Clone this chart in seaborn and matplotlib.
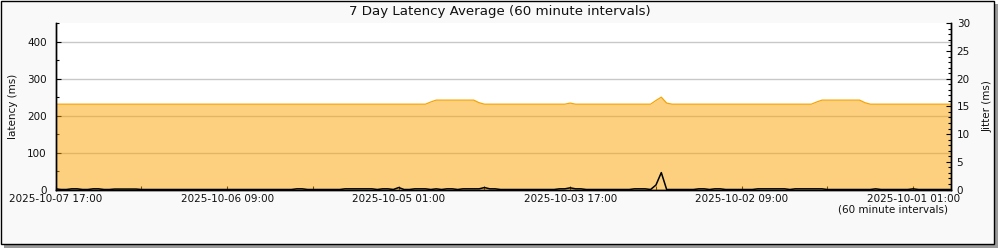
import numpy as np
import pandas as pd
import matplotlib
matplotlib.use("Agg")
import matplotlib.pyplot as plt
import matplotlib.dates as mdates
from matplotlib.patches import Rectangle
from matplotlib.ticker import MultipleLocator
import seaborn as sns

# ---------------- data ----------------
start_time = "2025-10-07 17:00"
n_points = 168  # hourly samples, newest first

latency_ms = [
    231, 231, 231, 231, 231, 231, 231, 231, 231, 231,
    231, 231, 231, 231, 231, 231, 231, 231, 231, 231,
    231, 231, 231, 231, 231, 231, 231, 231, 231, 231,
    231, 231, 231, 231, 231, 231, 231, 231, 231, 231,
    231, 231, 231, 231, 231, 231, 231, 231, 231, 231,
    231, 231, 231, 231, 231, 231, 231, 231, 231, 231,
    231, 231, 231, 231, 231, 231, 231, 231, 231, 231,
    237, 242, 242, 242, 242, 242, 242, 242, 242, 235,
    231, 231, 231, 231, 231, 231, 231, 231, 231, 231,
    231, 231, 231, 231, 231, 231, 234, 231, 231, 231,
    231, 231, 231, 231, 231, 231, 231, 231, 231, 231,
    231, 231, 241, 250, 234, 231, 231, 231, 231, 231,
    231, 231, 231, 231, 231, 231, 231, 231, 231, 231,
    231, 231, 231, 231, 231, 231, 231, 231, 231, 231,
    231, 231, 237, 242, 242, 242, 242, 242, 242, 242,
    242, 235, 231, 231, 231, 231, 231, 231, 231, 231,
    231, 231, 231, 231, 231, 231, 231, 231,
]

jitter_ms = [
    0.12, 0.0, 0.0, 0.12, 0.12, 0.0, 0.0, 0.12, 0.12, 0.0,
    0.0, 0.08, 0.08, 0.08, 0.08, 0.08, 0.0, 0.0, 0.0, 0.0,
    0.0, 0.0, 0.0, 0.0, 0.0, 0.0, 0.0, 0.0, 0.0, 0.0,
    0.0, 0.0, 0.0, 0.0, 0.0, 0.0, 0.0, 0.0, 0.0, 0.0,
    0.0, 0.0, 0.0, 0.0, 0.0, 0.12, 0.12, 0.0, 0.0, 0.0,
    0.0, 0.0, 0.0, 0.0, 0.12, 0.12, 0.12, 0.12, 0.12, 0.12,
    0.0, 0.12, 0.12, 0.0, 0.35, 0.0, 0.0, 0.12, 0.12, 0.12,
    0.0, 0.12, 0.0, 0.12, 0.12, 0.0, 0.12, 0.12, 0.12, 0.12,
    0.35, 0.12, 0.12, 0.0, 0.0, 0.0, 0.0, 0.0, 0.0, 0.0,
    0.0, 0.0, 0.0, 0.0, 0.12, 0.12, 0.3, 0.12, 0.12, 0.0,
    0.0, 0.0, 0.0, 0.0, 0.0, 0.0, 0.0, 0.0, 0.12, 0.12,
    0.12, 0.0, 0.8, 3.05, 0.0, 0.0, 0.0, 0.0, 0.0, 0.0,
    0.12, 0.12, 0.0, 0.12, 0.12, 0.0, 0.0, 0.0, 0.0, 0.0,
    0.0, 0.12, 0.12, 0.12, 0.12, 0.12, 0.12, 0.0, 0.12, 0.12,
    0.12, 0.12, 0.12, 0.12, 0.0, 0.0, 0.0, 0.0, 0.0, 0.0,
    0.0, 0.0, 0.0, 0.12, 0.0, 0.0, 0.0, 0.0, 0.0, 0.0,
    0.12, 0.0, 0.0, 0.0, 0.0, 0.0, 0.0, 0.0,
]

x_tick_labels = [
    "2025-10-07 17:00", "2025-10-06 09:00", "2025-10-05 01:00",
    "2025-10-03 17:00", "2025-10-02 09:00", "2025-10-01 01:00",
]
x_minor_ticks = [
    "2025-10-07 01:00", "2025-10-05 17:00", "2025-10-04 09:00",
    "2025-10-03 01:00", "2025-10-01 17:00",
]
x_end_time = "2025-09-30 18:00"

title_text = "7 Day Latency Average (60 minute intervals)"
left_label = "latency (ms)"
right_label = "Jitter (ms)"
interval_note = "(60 minute intervals)"

times = pd.date_range(end=pd.Timestamp(start_time), periods=n_points, freq="h")[::-1]
df = pd.DataFrame({"time": times, "latency": latency_ms, "jitter": jitter_ms})

# ---------------- style ----------------
sns.set_theme(style="white")
plt.rcParams["font.family"] = ["DejaVu Sans"]

W, H = 1000, 250
fig = plt.figure(figsize=(W / 100, H / 100), dpi=100, facecolor="white")

# frame with shadow
fig.patches.append(Rectangle((4 / W, 1 - 248 / H), 994 / W, 244 / H,
                             transform=fig.transFigure, facecolor="#9a9a9a",
                             edgecolor="none", zorder=-3))
fig.patches.append(Rectangle((0.5 / W, 1 - 244 / H), 993.5 / W, 243.5 / H,
                             transform=fig.transFigure, facecolor="#f9f9f9",
                             edgecolor="black", linewidth=1.0, zorder=-2))

ax_left, ax_right, ax_top, ax_bottom = 55.7, 950.7, 23.3, 189.5
ax = fig.add_axes([ax_left / W, 1 - ax_bottom / H,
                   (ax_right - ax_left) / W, (ax_bottom - ax_top) / H])
ax.set_facecolor("white")

# grid (under the translucent fill)
ax.yaxis.grid(True, which="major", color="#c8c8c8", linewidth=1.0, zorder=0.5)
ax.xaxis.grid(False)
ax.set_axisbelow(True)

ax.fill_between(df["time"], 0, df["latency"], color="#fba300", alpha=0.5,
                linewidth=0, zorder=1)
sns.lineplot(data=df, x="time", y="latency", ax=ax, color="#f7a400",
             linewidth=0.9, zorder=2)

ax2 = ax.twinx()
sns.lineplot(data=df, x="time", y="jitter", ax=ax2, color="black",
             linewidth=1.1, zorder=3)
ax2.patch.set_visible(False)

ax.set_ylim(0, 450)
ax2.set_ylim(0, 30)
t0 = pd.Timestamp(start_time)
t1 = pd.Timestamp(x_end_time)
ax.set_xlim(mdates.date2num(t0), mdates.date2num(t1))

major_pos = [mdates.date2num(pd.Timestamp(s)) for s in x_tick_labels]
minor_pos = [mdates.date2num(pd.Timestamp(s)) for s in x_minor_ticks]
ax.set_xticks(major_pos)
ax.set_xticklabels(x_tick_labels)
ax.set_xticks(minor_pos, minor=True)

ax.yaxis.set_major_locator(MultipleLocator(100))
ax.yaxis.set_minor_locator(MultipleLocator(50))
ax2.yaxis.set_major_locator(MultipleLocator(5))
ax2.yaxis.set_minor_locator(MultipleLocator(1))

fs = 7.5
for a in (ax, ax2):
    a.spines["top"].set_visible(False)
    for side in ("left", "right", "bottom"):
        a.spines[side].set_color("black")
        a.spines[side].set_linewidth(1.0)

ax.tick_params(axis="x", which="both", direction="in", bottom=True,
               color="black", width=0.8, labelsize=fs, pad=3, labelcolor="#111111",
               length=3.1)
ax.tick_params(axis="y", which="both", direction="in", left=True, color="black",
               width=0.8, labelsize=fs, pad=6.5, labelcolor="#111111")
ax.tick_params(axis="y", which="major", length=3.6)
ax.tick_params(axis="y", which="minor", length=2.2)
ax2.tick_params(axis="y", which="both", direction="in", right=True, color="black",
                width=0.8, labelsize=fs, pad=4.3, labelcolor="#111111")
ax2.tick_params(axis="y", which="major", length=3.6)
ax2.tick_params(axis="y", which="minor", length=2.2)

ax.set_xlabel("")
ax.set_ylabel(left_label, fontsize=fs, color="#111111")
ax.yaxis.set_label_coords((18 - ax_left) / (ax_right - ax_left), 0.5)
ax2.set_ylabel(right_label, fontsize=fs, color="#111111", rotation=90)
ax2.yaxis.set_label_coords((982.5 - ax_left) / (ax_right - ax_left), 0.5)

fig.text(0.4995, 1 - 11 / H, title_text, ha="center", va="center",
         fontsize=9.6, color="#111111")
fig.text(948 / W, 1 - 209 / H, interval_note, ha="right", va="center",
         fontsize=fs, color="#111111")

fig.savefig("out.png", dpi=100, facecolor="white")
